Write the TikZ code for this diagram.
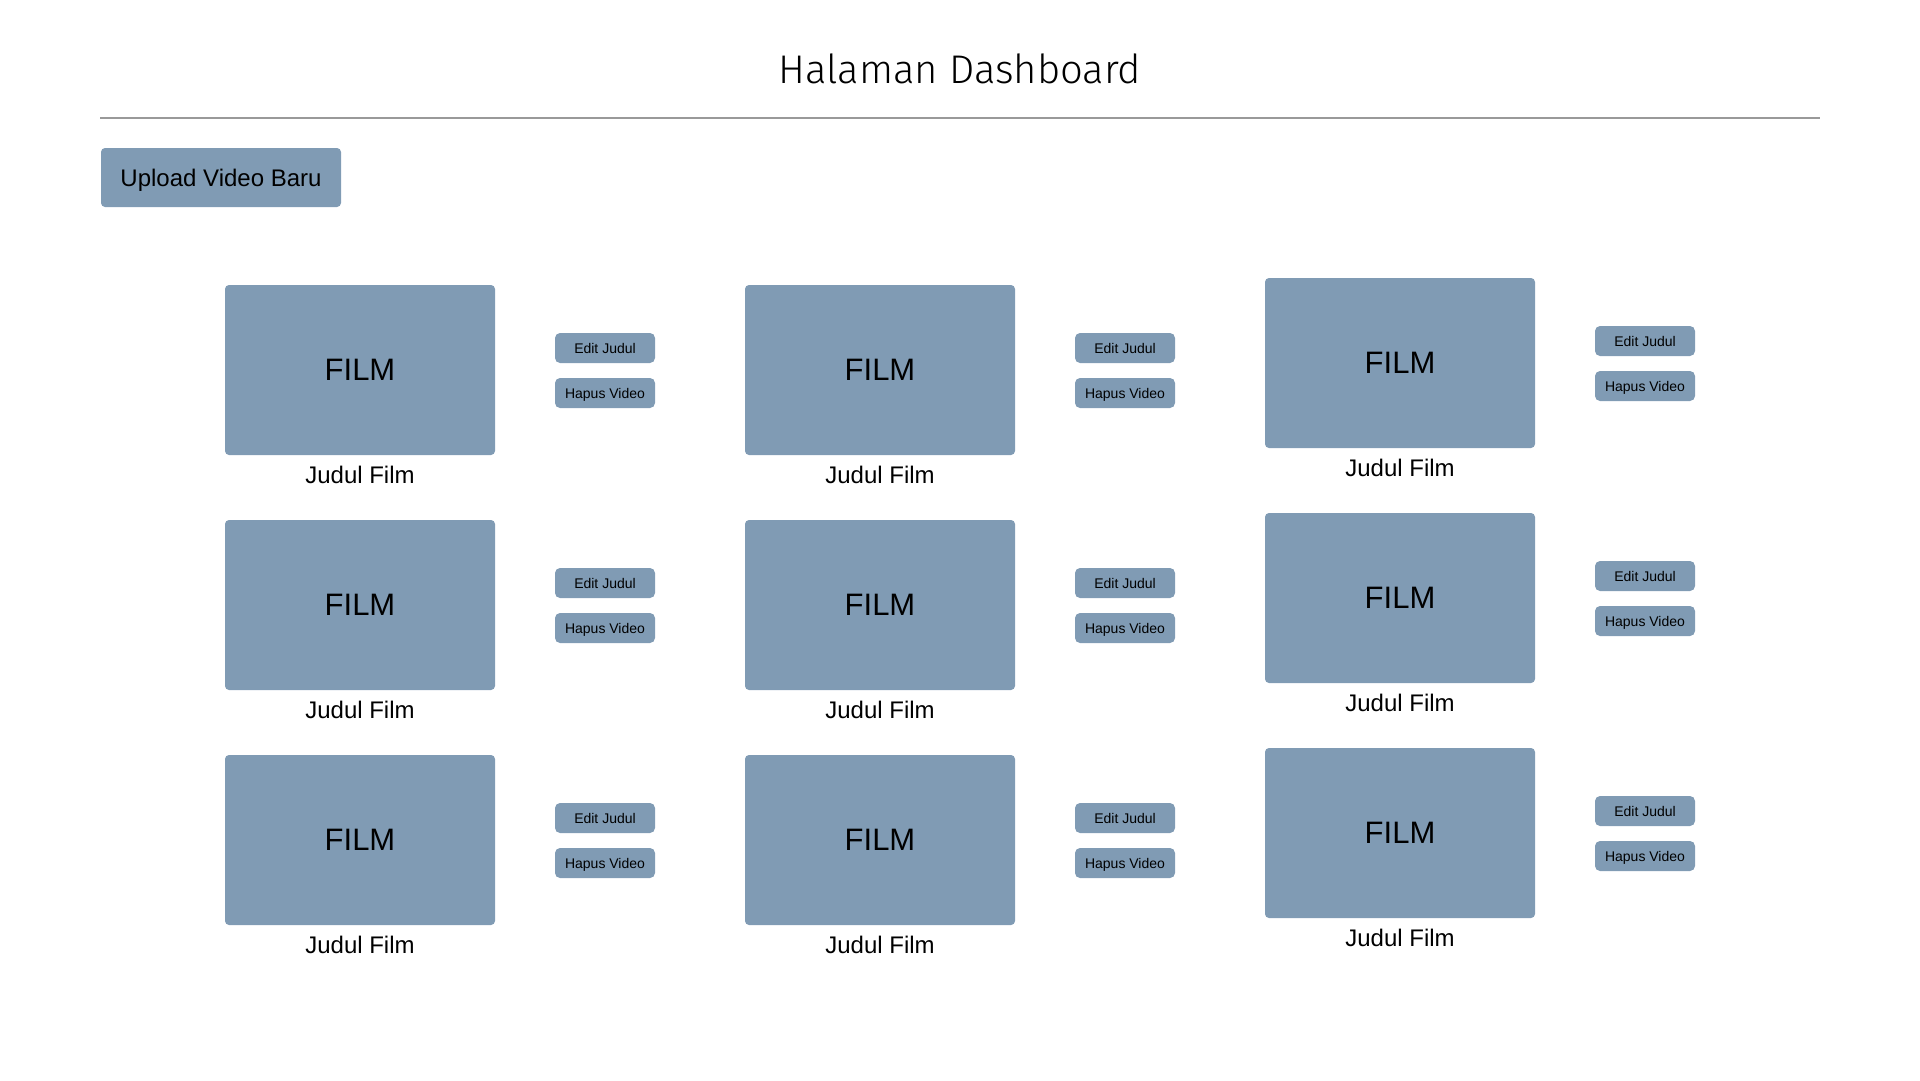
\documentclass[tikz,border=0pt]{standalone}
\usepackage{fontspec}
\setmainfont{Liberation Sans}
\newfontfamily\titlefont{Fira Sans Light}
\definecolor{filmblue}{HTML}{809BB4}
\begin{document}
\begin{tikzpicture}[x=1pt,y=-1pt,
    film/.style={fill=filmblue, rounded corners=4pt, inner sep=0pt,
        minimum width=270pt, minimum height=170pt, font=\fontsize{31}{37}\selectfont},
    tombol/.style={fill=filmblue, rounded corners=5pt, inner sep=0pt, text depth=0pt,
        minimum width=100pt, minimum height=30pt, font=\fontsize{14}{17}\selectfont},
    judul/.style={anchor=base, inner sep=0pt, font=\fontsize{24}{29}\selectfont}]
    \useasboundingbox (0,0) rectangle (1920,1080);
    \node[anchor=base, inner sep=0pt, font=\titlefont\fontsize{40}{48}\selectfont] (title) at (960,83) {Halaman Dashboard};
    \coordinate (garisL) at (100,118);
    \coordinate (garisR) at (1820,118);
    \draw[black!40, line width=1.5pt] (garisL) -- (garisR);
    \node[fill=filmblue, rounded corners=4pt, minimum width=240pt, minimum height=59pt, text depth=0pt,
        font=\fontsize{24}{29}\selectfont] (upload) at (221,177.5) {Upload Video Baru};
    % grid film 3x3
    \foreach \c/\xl/\yt in {1/225/285, 2/745/285, 3/1265/278}
        \foreach \r in {0,1,2} {
            \node[film] (film\c\r) at (\xl+135, \yt+85+235*\r) {FILM};
            \node[judul] (judul\c\r) at (\xl+135, \yt+198+235*\r) {Judul Film};
            \node[tombol] (edit\c\r) at (\xl+380, \yt+63+235*\r) {Edit Judul};
            \node[tombol] (hapus\c\r) at (\xl+380, \yt+108+235*\r) {Hapus Video};
        }
\end{tikzpicture}
\end{document}
